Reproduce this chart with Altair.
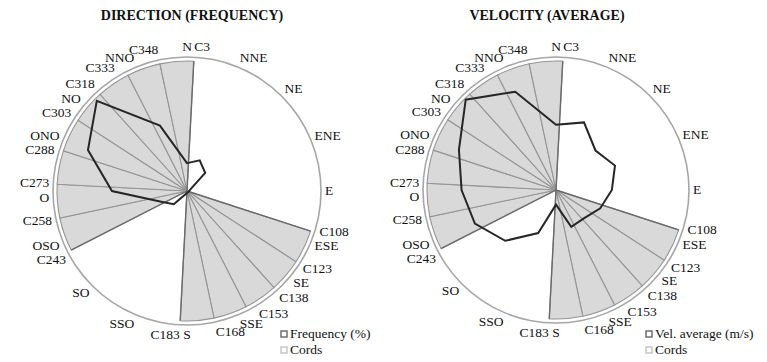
import math
import altair as alt
import pandas as pd

# ---------------- data ----------------
directions = ["N", "NNE", "NE", "ENE", "E", "ESE", "SE", "SSE",
              "S", "SSO", "SO", "OSO", "O", "ONO", "NO", "NNO"]
frequency = [5.2, 6.2, 4.8, 0.6, 0.4, 0.3, 0.3, 0.3,
             0.3, 0.6, 3.5, 5.2, 14.0, 20.0, 23.8, 13.2]      # %
freq_max = 25
velocity = [2.45, 2.75, 2.1, 2.4, 2.1, 1.8, 1.5, 1.5,
            0.55, 1.75, 2.7, 3.3, 3.55, 3.95, 4.8, 4.0]        # m/s
vel_max = 5
cord_angles = [3, 108, 123, 138, 153, 168, 183,
               243, 258, 273, 288, 303, 318, 333, 348]
titles = ["DIRECTION (FREQUENCY)", "VELOCITY (AVERAGE)"]
legend_labels = [["Frequency (%)", "Cords"], ["Vel. average (m/s)", "Cords"]]

FONT = "Liberation Serif"
H = 362
LINE_PX = 14.0     # vertical room a label needs
LABEL_R_PX = 140.0
MAX_SHIFT = 9.0    # degrees


def label_positions():
    """Angles at which the labels are drawn: where a compass label and a cord label
    nearly coincide, the one with the smaller angle is moved counter-clockwise so
    that the two rows no longer overlap."""
    comp = [i * 22.5 for i in range(len(directions))]
    comp_pos = list(comp)
    cord_pos = list(cord_angles)
    for i, a in enumerate(comp):
        if a % 180 == 0:
            continue
        for j, c in enumerate(cord_angles):
            d = c - a
            if abs(d) >= 5:
                continue
            mid = math.radians((a + c) / 2)
            need = min(MAX_SHIFT, math.degrees(LINE_PX / (LABEL_R_PX * abs(math.sin(mid)))))
            if abs(d) >= need:
                continue
            if a < c:
                comp_pos[i] = c - need
            else:
                cord_pos[j] = a - need
    return comp, comp_pos, cord_pos


def build_tables(values):
    poly = pd.DataFrame({"dir": directions, "value": values, "idx": range(len(directions))})
    unwrapped = sorted(a if a > 90 else a + 360 for a in cord_angles)
    slices = pd.DataFrame([{"start": a, "end": b} for a, b in zip(unwrapped[:-1], unwrapped[1:])
                           if b - a == 15])
    ends = [a for i, a in enumerate(unwrapped)
            if (i == 0 or unwrapped[i] - unwrapped[i - 1] != 15)
            or (i == len(unwrapped) - 1 or unwrapped[i + 1] - unwrapped[i] != 15)]
    bounds = pd.DataFrame({"ang": ends})
    comp, comp_pos, cord_pos = label_positions()
    labels = pd.DataFrame({
        "label": directions + ["C%d" % a for a in cord_angles],
        "ang": comp + cord_angles,
        "pos": comp_pos + cord_pos,
    })
    return poly, slices, bounds, labels


def panel(values, vmax, title, legend, cx, cy, R, W, lx, ly, tx):
    poly, slices, bounds, labels = build_tables(values)
    xs = alt.Scale(domain=[-cx / R, (W - cx) / R], nice=False, zero=False)
    ys = alt.Scale(domain=[-(H - cy) / R, cy / R], nice=False, zero=False)
    wedge_r = 0.97

    base_xy = dict(x=alt.value(cx), y=alt.value(cy))

    slice_layer = alt.Chart(slices).mark_arc(
        fill="#d9d9d9", stroke="#959595", strokeWidth=1.1
    ).encode(
        theta=alt.Theta("start:Q", scale=alt.Scale(domain=[0, 360], range=[0, 2 * math.pi])),
        theta2="end:Q",
        radius=alt.value(wedge_r * R),
        **base_xy,
    )

    ring = alt.Chart(pd.DataFrame({"k": [0]})).mark_arc(color="#a6a6a6").encode(
        theta=alt.value(0), theta2=alt.value(2 * math.pi),
        radius=alt.value(R + 0.8), radius2=alt.value(R - 0.8),
        **base_xy,
    )

    bound_layer = alt.Chart(bounds).transform_calculate(
        x0="0", y0="0",
        x1=f"{wedge_r}*sin(datum.ang*PI/180)",
        y1=f"{wedge_r}*cos(datum.ang*PI/180)",
    ).mark_rule(color="#6a6a6a", strokeWidth=1.4).encode(
        x=alt.X("x0:Q", scale=xs, axis=None),
        y=alt.Y("y0:Q", scale=ys, axis=None),
        x2="x1:Q", y2="y1:Q",
    )

    line_layer = alt.Chart(poly).transform_calculate(
        a="datum.idx*22.5*PI/180",
        px=f"datum.value/{vmax}*sin(datum.a)",
        py=f"datum.value/{vmax}*cos(datum.a)",
    ).mark_line(interpolate="linear-closed", color="#262626", strokeWidth=2).encode(
        x=alt.X("px:Q", scale=xs, axis=None),
        y=alt.Y("py:Q", scale=ys, axis=None),
        order="idx:Q",
    )

    lab_base = alt.Chart(labels).transform_calculate(
        s="sin(datum.pos*PI/180)",
        lx="1.03*sin(datum.pos*PI/180)",
        ly=f"(1.03 + 6/{R})*cos(datum.pos*PI/180)",
    )
    text_layers = []
    for cond, align in [("datum.s > 0.03", "left"), ("datum.s < -0.03", "right"),
                        ("abs(datum.s) <= 0.03", "center")]:
        text_layers.append(
            lab_base.transform_filter(cond).mark_text(
                font=FONT, fontSize=13.5, color="#111111", align=align, baseline="middle"
            ).encode(
                x=alt.X("lx:Q", scale=xs, axis=None),
                y=alt.Y("ly:Q", scale=ys, axis=None),
                text="label:N",
            )
        )

    title_layer = alt.Chart(pd.DataFrame({"t": [title]})).mark_text(
        font=FONT, fontSize=14, fontWeight="bold", color="#111111", baseline="middle"
    ).encode(x=alt.value(tx), y=alt.value(16), text="t:N")

    leg = pd.DataFrame({"lab": legend, "row": [0, 1]})
    leg_y = alt.Y("row:Q", scale=alt.Scale(domain=[0, 1], range=[ly, ly + 16]), axis=None)
    leg_sym = alt.Chart(leg).mark_point(shape="square", size=36, filled=False, strokeWidth=1.5).encode(
        x=alt.value(lx),
        y=leg_y,
        stroke=alt.Stroke("row:N", scale=alt.Scale(domain=[0, 1], range=["#333333", "#b0b0b0"]),
                          legend=None),
    )
    leg_txt = alt.Chart(leg).mark_text(
        font=FONT, fontSize=13.5, color="#111111", align="left", baseline="middle"
    ).encode(
        x=alt.value(lx + 6),
        y=leg_y,
        text="lab:N",
    )

    return alt.layer(
        slice_layer, ring, bound_layer, line_layer, *text_layers, title_layer, leg_sym, leg_txt
    ).resolve_scale(y="independent").properties(width=W, height=H)


left = panel(frequency, freq_max, titles[0], legend_labels[0],
             cx=187, cy=191, R=134, W=383, lx=284, ly=334, tx=192)
right = panel(velocity, vel_max, titles[1], legend_labels[1],
              cx=173, cy=190, R=133, W=384, lx=266, ly=334, tx=164)

chart = alt.hconcat(left, right, spacing=0).properties(
    padding=0, background="white"
).configure_view(stroke=None)

chart.save("out.html", embed_options={"renderer": "svg", "actions": False})
